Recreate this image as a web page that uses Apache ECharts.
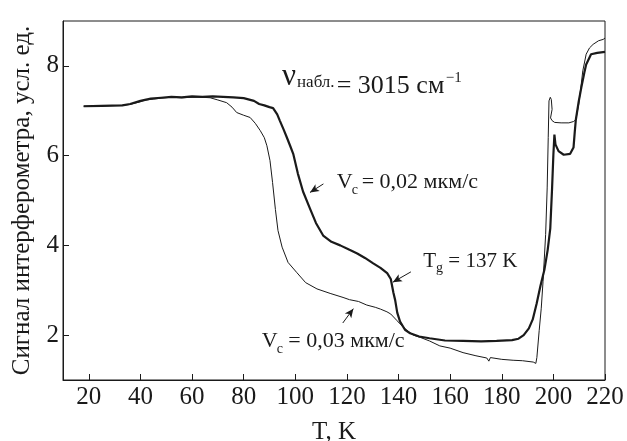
<!DOCTYPE html>
<html><head><meta charset="utf-8">
<script src="https://cdn.jsdelivr.net/npm/echarts@6/dist/echarts.min.js"></script>
<style>html,body{margin:0;padding:0;background:#fff}#c{width:627px;height:441px}</style>
</head><body><div id="c"></div><script>
// ---- data (T in K, signal in arb. units) ----
const xTicks = [20, 40, 60, 80, 100, 120, 140, 160, 180, 200, 220];
const yTicks = [2, 4, 6, 8];

// V_c = 0,02 мкм/с (thick curve)
const slowT = [18, 25, 33, 36, 40, 44, 48, 52, 56, 60, 64, 68, 72, 76, 80, 84, 86, 88, 90, 91.4, 93, 94, 95.5, 96.7, 98, 99.2, 101, 103, 105.7, 108, 110.8, 114, 117.4, 121, 124, 127, 130.2, 133, 135.6, 137, 138, 138.7, 139.5, 140.6, 142.5, 144.5, 148, 152, 158, 165, 172, 178, 184, 186.5, 188.5, 190.5, 192, 193.5, 195, 196.5, 197.8, 198.8, 199.5, 200, 200.4, 200.8, 202, 204, 206.5, 207.8, 208.3, 208.7, 209.8, 210.8, 212, 212.7, 214.6, 217, 220];
const slowV = [7.10, 7.11, 7.12, 7.15, 7.22, 7.27, 7.29, 7.31, 7.30, 7.32, 7.31, 7.32, 7.31, 7.30, 7.28, 7.22, 7.15, 7.12, 7.08, 7.06, 6.92, 6.78, 6.58, 6.41, 6.22, 6.04, 5.60, 5.20, 4.82, 4.50, 4.22, 4.08, 4.00, 3.90, 3.82, 3.72, 3.60, 3.50, 3.38, 3.25, 2.95, 2.78, 2.50, 2.30, 2.12, 2.04, 1.97, 1.93, 1.88, 1.87, 1.86, 1.87, 1.89, 1.92, 2.00, 2.15, 2.35, 2.70, 3.10, 3.45, 3.90, 4.38, 5.28, 6.02, 6.47, 6.25, 6.10, 6.02, 6.04, 6.18, 6.54, 6.80, 7.20, 7.51, 7.85, 8.03, 8.26, 8.29, 8.31];

// V_c = 0,03 мкм/с (thin curve)
const fastT = [18, 25, 33, 36, 40, 42, 45, 48, 52, 56, 60, 64, 67, 70, 73.4, 75.5, 77.3, 80, 82.5, 84.5, 86.4, 88, 89, 90.2, 91.2, 92.3, 93.3, 94.9, 97.2, 100.5, 104, 108.4, 113.5, 118.5, 121, 124.5, 127.7, 131, 133, 135.5, 137, 139.3, 140.6, 143.2, 145.7, 148.4, 152, 156, 160, 165, 170, 174.2, 175, 175.6, 180, 184.4, 188, 192.2, 193.2, 193.6, 194.5, 195.3, 196, 197, 197.6, 198, 198.3, 198.8, 199.2, 199.5, 198.9, 199.5, 200.5, 203, 206, 207.8, 208.7, 209.8, 210.6, 211.4, 212.7, 214, 215.4, 217.5, 219.3, 220];
const fastV = [7.10, 7.11, 7.12, 7.14, 7.20, 7.24, 7.26, 7.28, 7.30, 7.29, 7.30, 7.30, 7.29, 7.24, 7.18, 7.08, 6.96, 6.90, 6.85, 6.72, 6.56, 6.40, 6.22, 5.89, 5.40, 4.80, 4.33, 3.96, 3.62, 3.40, 3.17, 3.03, 2.93, 2.84, 2.79, 2.75, 2.67, 2.62, 2.58, 2.52, 2.47, 2.33, 2.25, 2.11, 2.00, 1.95, 1.87, 1.76, 1.71, 1.61, 1.54, 1.49, 1.42, 1.50, 1.46, 1.44, 1.43, 1.40, 1.37, 1.50, 2.10, 2.60, 3.20, 4.24, 5.28, 6.40, 7.22, 7.30, 7.25, 7.03, 6.84, 6.78, 6.74, 6.73, 6.73, 6.76, 6.80, 7.14, 7.50, 7.89, 8.26, 8.40, 8.48, 8.56, 8.59, 8.62];

// arrows: [fromT, fromV, toT, toV]
const arrows = [
  [110.9, 5.37, 105.7, 5.18],
  [144.8, 3.41, 137.8, 3.18],
  [118.4, 2.27, 122.5, 2.59]
];

const FONT = "'Liberation Serif', 'Times New Roman', serif";
const INK = '#1a1a1a';
const cv = document.createElement('canvas').getContext('2d');
function midOff(s) {
  cv.font = s + 'px ' + FONT; cv.textBaseline = 'middle';
  const m = cv.measureText('H'); cv.textBaseline = 'alphabetic';
  return m.actualBoundingBoxDescent;
}
function tw(t, s) { cv.font = s + 'px ' + FONT; return cv.measureText(t).width; }
function txt(t, s, x, base) {
  return { type: 'text', silent: true, style: {
    text: t, x: x, y: base - midOff(s), fontSize: s, fontFamily: FONT, fill: INK,
    textAlign: 'left', textVerticalAlign: 'middle', align: 'left', verticalAlign: 'middle' } };
}
const nuMain = '= 3015 см';
const labels = [
  txt('ν', 31, 282, 85), txt('набл.', 17, 297, 86.5), txt(nuMain, 26, 336.7, 93),
  txt('−1', 15, 336.7 + tw(nuMain, 26) + 1.5, 82),
  txt('V', 22, 336.7, 188.3), txt('c', 14, 351.7, 193.5), txt('= 0,02 мкм/с', 22, 361.7, 188.3),
  txt('T', 21, 423.3, 266.7), txt('g', 14, 436, 272), txt('= 137 K', 21, 448.3, 266.7),
  txt('V', 22, 261.7, 346.7), txt('c', 14, 276.7, 353), txt('= 0,03 мкм/с', 22, 288.3, 346.7)
];

const zip = (a, b) => a.map((v, i) => [v, b[i]]);
const chart = echarts.init(document.getElementById('c'), null, { renderer: 'canvas' });
const axisCommon = {
  axisLine: { show: true, lineStyle: { color: INK, width: 1 } },
  splitLine: { show: false },
  nameTextStyle: { fontFamily: FONT, fontSize: 25, color: INK },
};
chart.setOption({
  animation: false,
  backgroundColor: '#fff',
  grid: { left: 63, right: 22, top: 21, bottom: 61, show: true, borderColor: INK, borderWidth: 1,
          containLabel: false, outerBoundsMode: 'none' },
  xAxis: Object.assign({}, axisCommon, {
    type: 'value', min: 10, max: 220,
    name: 'T, K', nameLocation: 'middle', nameGap: 40,
    axisTick: { show: true, inside: true, length: 6, customValues: xTicks, lineStyle: { color: INK } },
    axisLabel: { customValues: xTicks, fontFamily: FONT, fontSize: 25, color: INK, margin: 5 }
  }),
  yAxis: Object.assign({}, axisCommon, {
    type: 'value', min: 1, max: 9,
    name: 'Сигнал интерферометра, усл. ед.', nameLocation: 'middle', nameGap: 28,
    axisTick: { show: true, inside: true, length: 6, customValues: yTicks, lineStyle: { color: INK } },
    axisLabel: { customValues: yTicks, fontFamily: FONT, fontSize: 25, color: INK, margin: 4 }
  }),
  series: [
    { type: 'line', data: zip(slowT, slowV), showSymbol: false, symbol: 'none',
      lineStyle: { color: INK, width: 2.2 }, silent: true,
      markLine: { silent: true, symbol: ['none', 'arrow'], symbolSize: [6, 9], label: { show: false },
        lineStyle: { color: INK, width: 1, type: 'solid' },
        data: arrows.map(a => [{ coord: [a[0], a[1]] }, { coord: [a[2], a[3]] }]) } },
    { type: 'line', data: zip(fastT, fastV), showSymbol: false, symbol: 'none',
      lineStyle: { color: INK, width: 1 }, silent: true }
  ],
  graphic: labels
});
</script></body></html>
